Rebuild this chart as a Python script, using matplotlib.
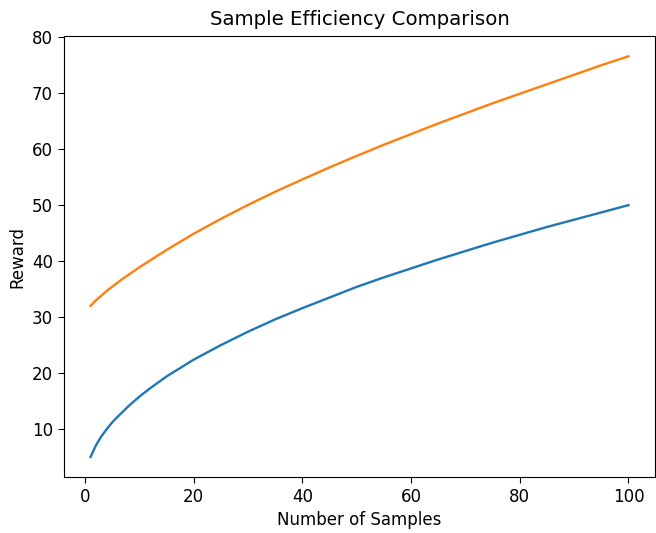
import matplotlib
matplotlib.use('Agg')
import matplotlib.pyplot as plt

# values
samples_a = [1, 2, 3, 4, 5, 6, 8, 10, 12, 15, 20, 25, 30, 35, 40, 45, 50,
             55, 60, 65, 70, 75, 80, 85, 90, 95, 100]
reward_a = [5.0, 7.1, 8.7, 10.0, 11.2, 12.2, 14.1, 15.8, 17.3, 19.4, 22.4,
            25.0, 27.4, 29.6, 31.6, 33.5, 35.4, 37.1, 38.7, 40.3, 41.8,
            43.3, 44.7, 46.1, 47.4, 48.7, 50.0]

samples_b = [1, 2, 4, 7, 10, 15, 20, 25, 30, 35, 40, 45, 50, 55, 60, 65,
             70, 75, 80, 85, 90, 95, 100]
reward_b = [32.0, 33.0, 34.7, 36.9, 38.9, 42.0, 44.9, 47.55, 50.05, 52.4,
            54.6, 56.75, 58.8, 60.8, 62.7, 64.6, 66.4, 68.2, 69.9, 71.6,
            73.3, 75.0, 76.6]

plt.rcParams['xtick.labelsize'] = 12
plt.rcParams['ytick.labelsize'] = 12
plt.rcParams['xtick.major.size'] = 4.2
plt.rcParams['ytick.major.size'] = 4.2

fig, ax = plt.subplots(figsize=(6.56, 5.33), dpi=100)
ax.plot(samples_a, reward_a, lw=1.7)
ax.plot(samples_b, reward_b, lw=1.7)

ax.set_title('Sample Efficiency Comparison', fontsize=14.2, pad=8)
ax.set_xlabel('Number of Samples', fontsize=12)
ax.set_ylabel('Reward', fontsize=12)

fig.subplots_adjust(left=0.097, right=0.999, bottom=0.105, top=0.932)
fig.savefig('out.png', dpi=100)
